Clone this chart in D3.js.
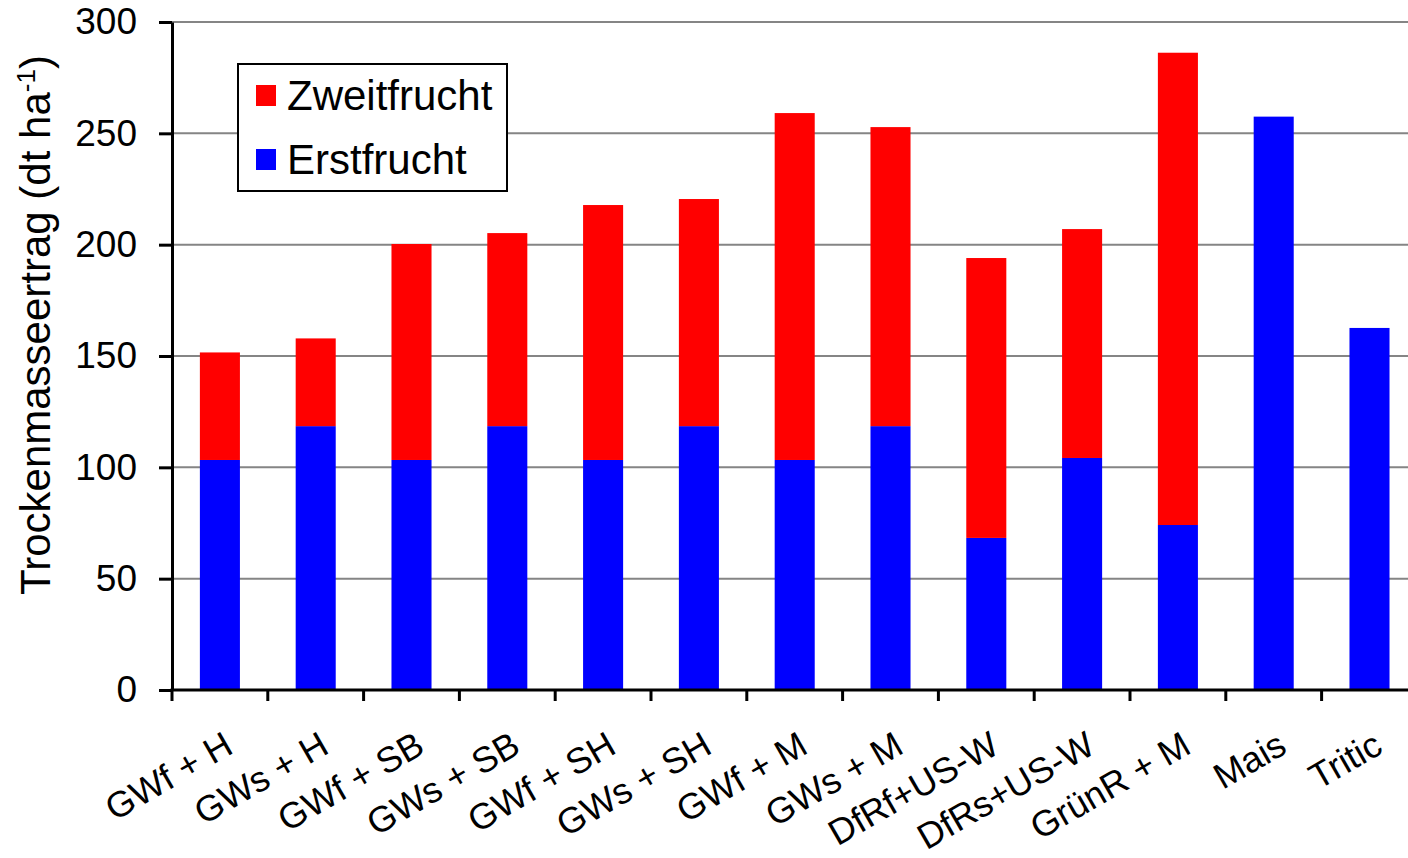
<!DOCTYPE html>
<html>
<head>
<meta charset="utf-8">
<script src="https://cdn.jsdelivr.net/npm/d3@7"></script>
<style>
  body { margin: 0; background: #fff; }
  text { font-family: "Liberation Sans", Arial, sans-serif; fill: #000; }
</style>
</head>
<body>
<div id="chart"></div>
<script>
// values (dt/ha)
const categories = ["GWf + H", "GWs + H", "GWf + SB", "GWs + SB", "GWf + SH", "GWs + SH",
  "GWf + M", "GWs + M", "DfRf+US-W", "DfRs+US-W", "GrünR + M", "Mais", "Tritic"]
const erstfrucht = [103.3, 118.5, 103.3, 118.5, 103.3, 118.5, 103.3, 118.5, 68.3, 104.2, 74.1, 257.5, 162.6]
const zweitfrucht = [48.3, 39.4, 97.0, 86.7, 114.5, 102.0, 155.8, 134.3, 125.7, 102.8, 212.1, 0, 0]
const yTicks = [0, 50, 100, 150, 200, 250, 300]

const W = 1408, H = 858
const plotLeft = 172, plotTop = 22, plotBottom = 690
const step = 95.8

const svg = d3.select("#chart").append("svg")
    .attr("width", W)
    .attr("height", H)

const x = d3.scaleBand()
    .domain(categories)
    .range([plotLeft, plotLeft + step * categories.length])
    .paddingInner(0.582)
    .paddingOuter(0.291)

const y = d3.scaleLinear()
    .domain([0, 300])
    .range([plotBottom, plotTop])

// gridlines
svg.append("g")
    .selectAll("line")
    .data(yTicks.filter(d => d > 0))
    .join("line")
    .attr("x1", plotLeft).attr("x2", W)
    .attr("y1", d => y(d)).attr("y2", d => y(d))
    .attr("stroke", "#858585")
    .attr("stroke-width", 2)

// stacked bars
const rows = categories.map((c, i) => ({cat: c, first: erstfrucht[i], second: zweitfrucht[i]}))

svg.append("g")
    .selectAll("rect")
    .data(rows)
    .join("rect")
    .attr("x", d => x(d.cat))
    .attr("width", x.bandwidth())
    .attr("y", d => y(d.first))
    .attr("height", d => y(0) - y(d.first))
    .attr("fill", "#0000ff")

svg.append("g")
    .selectAll("rect")
    .data(rows.filter(d => d.second > 0))
    .join("rect")
    .attr("x", d => x(d.cat))
    .attr("width", x.bandwidth())
    .attr("y", d => y(d.first + d.second))
    .attr("height", d => y(d.first) - y(d.first + d.second))
    .attr("fill", "#ff0000")

// y axis
const yAxis = svg.append("g")
    .attr("transform", `translate(${plotLeft},0)`)
    .call(d3.axisLeft(y).tickValues(yTicks).tickSize(13).tickSizeOuter(0).tickPadding(22))
yAxis.select(".domain").attr("stroke-width", 3)
yAxis.selectAll(".tick line").attr("stroke-width", 3)
yAxis.selectAll(".tick text")
    .style("font-size", "37px")
    .style("font-family", "Liberation Sans, Arial, sans-serif")

// x axis line and separator ticks
svg.append("line")
    .attr("x1", plotLeft - 1.5).attr("x2", W)
    .attr("y1", plotBottom).attr("y2", plotBottom)
    .attr("stroke", "#000")
    .attr("stroke-width", 3)

const gap = (x.step() - x.bandwidth()) / 2
svg.append("g")
    .selectAll("line")
    .data(categories)
    .join("line")
    .attr("x1", d => x(d) - gap).attr("x2", d => x(d) - gap)
    .attr("y1", plotBottom).attr("y2", plotBottom + 11)
    .attr("stroke", "#000")
    .attr("stroke-width", 3)

// category labels, rotated
svg.append("g")
    .selectAll("text")
    .data(categories)
    .join("text")
    .attr("transform", d => `translate(${x(d) + x.bandwidth() / 2 + 15},752) rotate(-30)`)
    .attr("text-anchor", "end")
    .style("font-size", "36px")
    .text(d => d)

// y title
const yTitle = svg.append("text")
    .attr("transform", "translate(50,325) rotate(-90)")
    .attr("text-anchor", "middle")
    .style("font-size", "42px")
yTitle.append("tspan").text("Trockenmasseertrag (dt ha")
yTitle.append("tspan").attr("dy", -15).style("font-size", "26px").text("-1")
yTitle.append("tspan").attr("dy", 15).text(")")

// legend
const legend = svg.append("g")
legend.append("rect")
    .attr("x", 238).attr("y", 64)
    .attr("width", 269).attr("height", 127)
    .attr("fill", "#fff")
    .attr("stroke", "#000")
    .attr("stroke-width", 2)

const legendItems = [
  {label: "Zweitfrucht", color: "#ff0000"},
  {label: "Erstfrucht", color: "#0000ff"}
]
legend.selectAll("g.item")
    .data(legendItems)
    .join("g")
    .attr("class", "item")
    .attr("transform", (d, i) => `translate(256,${85 + i * 64})`)
    .each(function(d) {
      const g = d3.select(this)
      g.append("rect").attr("width", 20).attr("height", 21).attr("fill", d.color)
      g.append("text").attr("x", 31).attr("y", 25).style("font-size", "42px").text(d.label)
    })
</script>
</body>
</html>
